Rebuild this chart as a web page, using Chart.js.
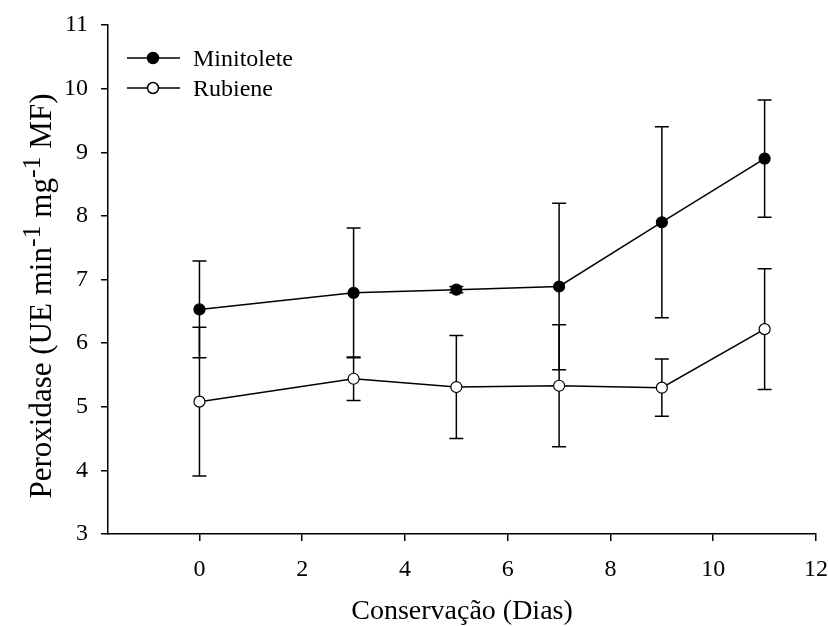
<!DOCTYPE html>
<html>
<head>
<meta charset="utf-8">
<script src="https://cdn.jsdelivr.net/npm/chart.js@4.4.0/dist/chart.umd.min.js"></script>
<style>
html, body { margin: 0; padding: 0; background: #fff; }
</style>
</head>
<body>
<canvas id="myChart" width="828" height="626"></canvas>
<script>
var days = [0, 3, 5, 7, 9, 11];
var minitolete = [6.53, 6.79, 6.84, 6.89, 7.90, 8.90];
var minitoleteErr = [0.76, 1.02, 0.05, 1.31, 1.50, 0.92];
var rubiene = [5.08, 5.44, 5.31, 5.33, 5.30, 6.22];
var rubieneErr = [1.17, 0.34, 0.81, 0.96, 0.45, 0.95];
var xTicks = [0, 2, 4, 6, 8, 10, 12];
var yTicks = [3, 4, 5, 6, 7, 8, 9, 10, 11];
var seriesNames = ['Minitolete', 'Rubiene'];

var serif = "'Liberation Serif', 'Times New Roman', serif";

function toPoints(xs, ys) {
    return xs.map(function (x, i) { return { x: x, y: ys[i] }; });
}

// error bars, drawn under the markers
var errorBars = {
    id: 'errorBars',
    beforeDatasetsDraw: function (chart) {
        var ctx = chart.ctx;
        var xs = chart.scales.x, ys = chart.scales.y;
        var errs = [minitoleteErr, rubieneErr];
        ctx.save();
        ctx.strokeStyle = '#000';
        ctx.lineWidth = 1.5;
        chart.data.datasets.forEach(function (ds, d) {
            ds.data.forEach(function (p, i) {
                var e = errs[d][i];
                var px = xs.getPixelForValue(p.x);
                var top = ys.getPixelForValue(p.y + e);
                var bot = ys.getPixelForValue(p.y - e);
                ctx.beginPath();
                ctx.moveTo(px, top); ctx.lineTo(px, bot);
                ctx.moveTo(px - 7, top); ctx.lineTo(px + 7, top);
                ctx.moveTo(px - 7, bot); ctx.lineTo(px + 7, bot);
                ctx.stroke();
            });
        });
        ctx.restore();
    }
};

// legend with line + marker, and y title with superscripts
var extras = {
    id: 'extras',
    afterDraw: function (chart) {
        var ctx = chart.ctx;
        var a = chart.chartArea;
        ctx.save();
        ctx.strokeStyle = '#000';
        ctx.lineWidth = 1.5;
        ctx.font = '24px ' + serif;
        ctx.textBaseline = 'middle';
        ctx.fillStyle = '#000';
        var fills = ['#000', '#fff'];
        seriesNames.forEach(function (name, i) {
            var y = a.top + 33 + i * 30;
            ctx.beginPath();
            ctx.moveTo(a.left + 19, y); ctx.lineTo(a.left + 72, y);
            ctx.stroke();
            ctx.beginPath();
            ctx.arc(a.left + 45, y, 5.5, 0, Math.PI * 2);
            ctx.fillStyle = fills[i];
            ctx.fill();
            ctx.stroke();
            ctx.fillStyle = '#000';
            ctx.fillText(name, a.left + 85, y + 2);
        });

        // y axis title
        var parts = [
            { t: 'Peroxidase (UE min', s: false },
            { t: '-1', s: true },
            { t: ' mg', s: false },
            { t: '-1', s: true },
            { t: ' MF)', s: false }
        ];
        var big = '31px ' + serif, small = '26px ' + serif;
        var w = 0;
        parts.forEach(function (p) {
            ctx.font = p.s ? small : big;
            p.w = ctx.measureText(p.t).width;
            w += p.w;
        });
        ctx.translate(40, 296);
        ctx.rotate(-Math.PI / 2);
        ctx.textBaseline = 'alphabetic';
        var x = -w / 2;
        parts.forEach(function (p) {
            ctx.font = p.s ? small : big;
            ctx.fillText(p.t, x, p.s ? 0 : 11);
            x += p.w;
        });
        ctx.restore();
    }
};

var config = {
    type: 'line',
    data: {
        datasets: [{
            label: seriesNames[0],
            data: toPoints(days, minitolete),
            borderColor: '#000',
            borderWidth: 1.5,
            backgroundColor: '#000',
            pointBackgroundColor: '#000',
            pointBorderColor: '#000',
            pointRadius: 5.5,
            pointBorderWidth: 1.2,
            tension: 0
        }, {
            label: seriesNames[1],
            data: toPoints(days, rubiene),
            borderColor: '#000',
            borderWidth: 1.5,
            backgroundColor: '#fff',
            pointBackgroundColor: '#fff',
            pointBorderColor: '#000',
            pointRadius: 5.5,
            pointBorderWidth: 1.2,
            tension: 0
        }]
    },
    options: {
        responsive: false,
        animation: false,
        layout: { padding: { top: 25, right: 12, left: 0, bottom: 0 } },
        plugins: {
            legend: { display: false },
            tooltip: { enabled: false }
        },
        scales: {
            x: {
                type: 'linear',
                min: -1.78,
                max: 12,
                afterBuildTicks: function (scale) {
                    scale.ticks = xTicks.map(function (v) { return { value: v }; });
                },
                afterFit: function (scale) {
                    scale.height = 92;
                    scale.paddingLeft = 0;
                    scale.paddingRight = 0;
                },
                border: { display: true, color: '#000', width: 1.5 },
                grid: { drawOnChartArea: false, drawTicks: true, tickLength: 7, color: '#000', lineWidth: 1.5 },
                ticks: { color: '#000', font: { family: serif, size: 24 }, padding: 14, maxRotation: 0 },
                title: { display: true, text: 'Conservação (Dias)', color: '#000', font: { family: serif, size: 28, lineHeight: 1 }, padding: { top: 0, bottom: 0 } }
            },
            y: {
                min: 3,
                max: 11,
                afterBuildTicks: function (scale) {
                    scale.ticks = yTicks.map(function (v) { return { value: v }; });
                },
                afterFit: function (scale) {
                    scale.width = 108;
                    scale.paddingTop = 0;
                    scale.paddingBottom = 0;
                },
                border: { display: true, color: '#000', width: 1.5 },
                grid: { drawOnChartArea: false, drawTicks: true, tickLength: 7, color: '#000', lineWidth: 1.5 },
                ticks: { color: '#000', font: { family: serif, size: 24 }, padding: 13 }
            }
        }
    },
    plugins: [errorBars, extras]
};

var myChart = new Chart(document.getElementById('myChart'), config);
</script>
</body>
</html>
